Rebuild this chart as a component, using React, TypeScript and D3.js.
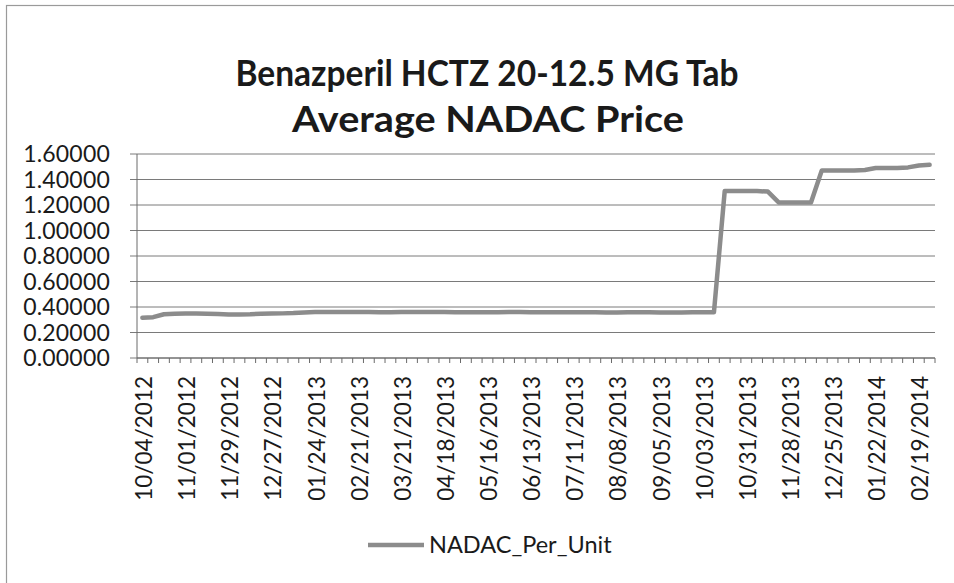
import React from "react";
import * as d3 from "d3";

const titleLines = ["Benazperil HCTZ 20-12.5 MG Tab", "Average NADAC Price"];
const seriesName = "NADAC_Per_Unit";

// weekly categories; labels shown every 4th category
const tickLabels = [
  "10/04/2012", "11/01/2012", "11/29/2012", "12/27/2012", "01/24/2013",
  "02/21/2013", "03/21/2013", "04/18/2013", "05/16/2013", "06/13/2013",
  "07/11/2013", "08/08/2013", "09/05/2013", "10/03/2013", "10/31/2013",
  "11/28/2013", "12/25/2013", "01/22/2014", "02/19/2014",
];
const labelEvery = 4;

const values = [
  0.315, 0.320, 0.343, 0.348, 0.349, 0.349, 0.347, 0.345, 0.341, 0.341,
  0.343, 0.348, 0.349, 0.350, 0.352, 0.357, 0.360, 0.360,
  0.360, 0.361, 0.361, 0.360, 0.359, 0.359, 0.360, 0.360, 0.361, 0.360,
  0.360, 0.359, 0.358, 0.358, 0.359, 0.359, 0.360, 0.360, 0.359, 0.358,
  0.358, 0.358, 0.359, 0.359, 0.358, 0.357, 0.357, 0.358, 0.358, 0.358,
  0.357, 0.357, 0.357, 0.358, 0.358, 0.358,
  1.310, 1.310, 1.310, 1.310, 1.305,
  1.220, 1.220, 1.220, 1.220,
  1.470, 1.470, 1.470, 1.470, 1.475,
  1.490, 1.490, 1.490, 1.495, 1.510, 1.515,
];

const yTicks = [0, 0.2, 0.4, 0.6, 0.8, 1.0, 1.2, 1.4, 1.6];

const W = 954;
const H = 583;
const plot = { left: 137, right: 935, top: 154, bottom: 358 };
const FONT = "Lato, 'Open Sans', sans-serif";

export default function App() {
  const idx = values.map((_, i) => i);
  const x = d3
    .scaleBand<number>()
    .domain(idx)
    .range([plot.left, plot.right])
    .padding(0);
  const cx = (i: number) => (x(i) as number) + x.bandwidth() / 2;
  const y = d3.scaleLinear().domain([0, 1.6]).range([plot.bottom, plot.top]);

  const line = d3
    .line<number>()
    .x((_, i) => cx(i))
    .y((d) => y(d));

  const boundaries = d3.range(values.length + 1).map(
    (i) => plot.left + i * x.bandwidth()
  );

  const fmt = d3.format(".5f");

  return (
    <svg
      width={W}
      height={H}
      style={{ position: "absolute", left: 0, top: 0, background: "#fff" }}
      fontFamily={FONT}
    >
      <rect x={0} y={0} width={W} height={H} fill="#fff" />
      {/* chart border (extends past right/bottom edges) */}
      <rect
        x={6.5}
        y={5.5}
        width={W + 50}
        height={H + 50}
        fill="none"
        stroke="#9a9a9a"
        strokeWidth={1.2}
      />

      {/* title */}
      <text
        x={487}
        y={86}
        textAnchor="middle"
        fontSize={36}
        fontWeight="bold"
        fill="#1a1a1a"
        textLength={503}
        lengthAdjust="spacingAndGlyphs"
      >
        {titleLines[0]}
      </text>
      <text
        x={488}
        y={132}
        textAnchor="middle"
        fontSize={36}
        fontWeight="bold"
        fill="#1a1a1a"
        textLength={392}
        lengthAdjust="spacingAndGlyphs"
      >
        {titleLines[1]}
      </text>

      {/* gridlines and y ticks */}
      {yTicks.map((t) => (
        <g key={t}>
          <line
            x1={plot.left - 7}
            x2={plot.right}
            y1={y(t)}
            y2={y(t)}
            stroke="#7a7a7a"
            strokeWidth={1}
          />
          <text
            x={110}
            y={y(t)}
            dy="0.36em"
            textAnchor="end"
            fontSize={23}
            letterSpacing={0.2}
            fill="#1a1a1a"
          >
            {fmt(t)}
          </text>
        </g>
      ))}

      {/* y axis */}
      <line
        x1={plot.left}
        x2={plot.left}
        y1={plot.top}
        y2={plot.bottom}
        stroke="#6a6a6a"
        strokeWidth={1}
      />
      {/* x axis */}
      <line
        x1={plot.left}
        x2={plot.right}
        y1={plot.bottom}
        y2={plot.bottom}
        stroke="#6a6a6a"
        strokeWidth={1}
      />
      {boundaries.map((b, i) => (
        <line
          key={i}
          x1={b}
          x2={b}
          y1={plot.bottom}
          y2={plot.bottom + 5}
          stroke="#6a6a6a"
          strokeWidth={1}
        />
      ))}

      {/* x labels */}
      {tickLabels.map((lab, k) => {
        const i = k * labelEvery;
        const px = cx(i) + 1.5;
        const py = 376;
        return (
          <text
            key={lab}
            transform={`translate(${px},${py}) rotate(-90)`}
            dy="0.36em"
            textAnchor="end"
            fontSize={22.5}
            fill="#1a1a1a"
          >
            {lab}
          </text>
        );
      })}

      {/* series line */}
      <path
        d={line(values) ?? ""}
        fill="none"
        stroke="#8c8c8c"
        strokeWidth={4.5}
        strokeLinejoin="round"
        strokeLinecap="round"
      />

      {/* legend */}
      <line
        x1={368}
        x2={424}
        y1={545}
        y2={545}
        stroke="#8c8c8c"
        strokeWidth={4.5}
      />
      <text x={429} y={545} dy="0.36em" fontSize={23.5} fill="#1a1a1a">
        {seriesName}
      </text>
    </svg>
  );
}
